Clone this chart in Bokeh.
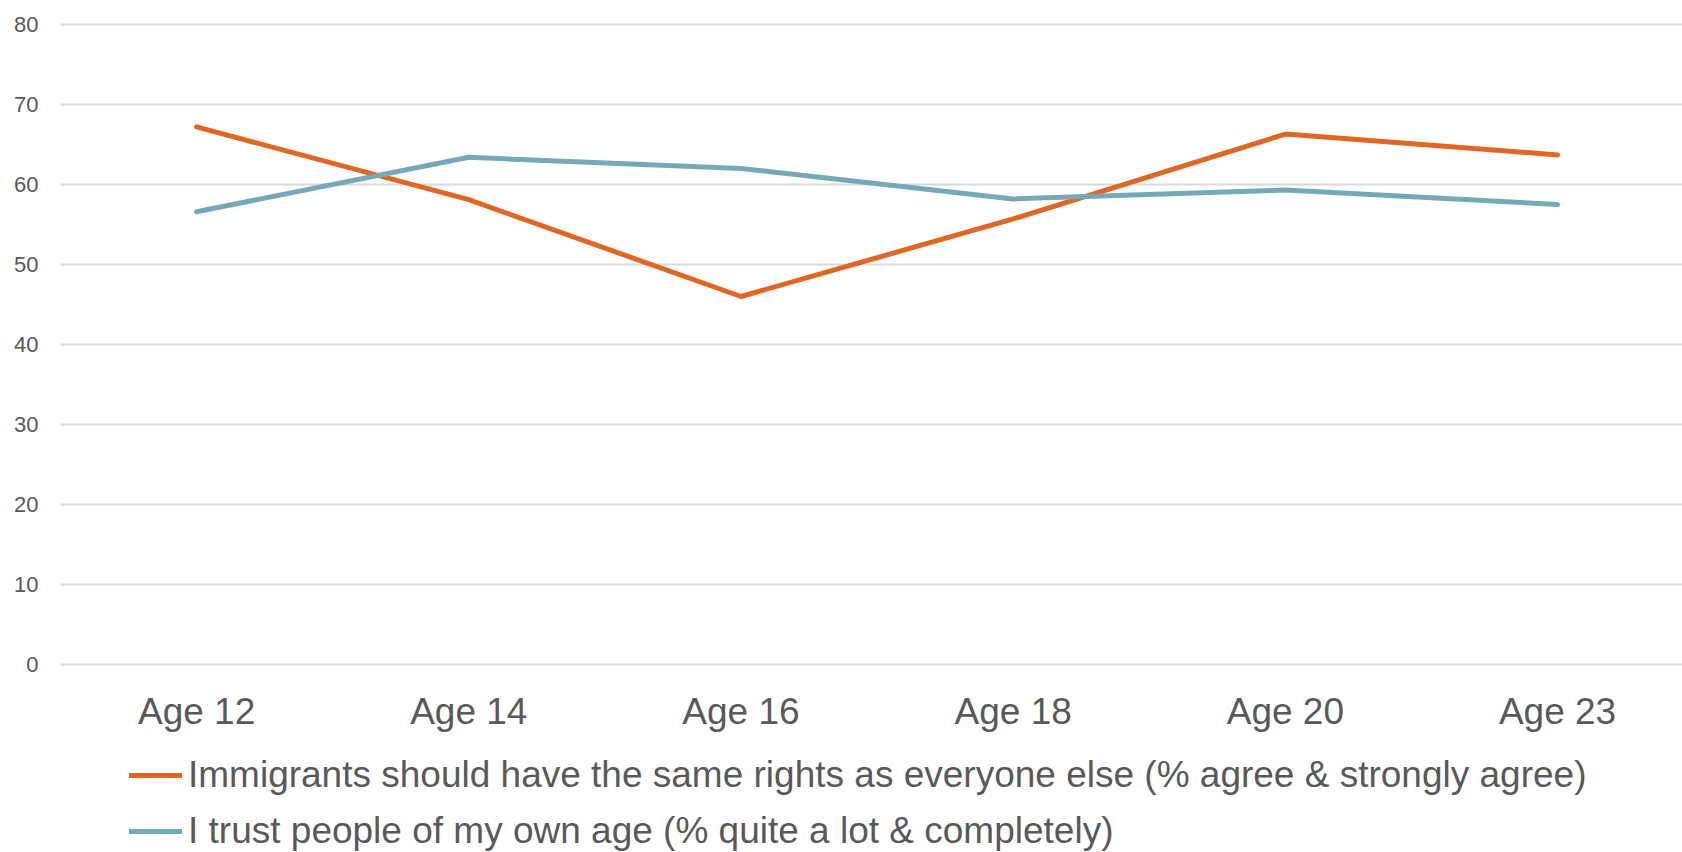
from bokeh.plotting import figure
from bokeh.models import FixedTicker, Legend, LegendItem, Range1d
from bokeh.core.properties import value
from bokeh.embed import file_html
from bokeh.resources import INLINE

# Survey waves and results (%)
categories = ["Age 12", "Age 14", "Age 16", "Age 18", "Age 20", "Age 23"]
immigrants_rights = [67.2, 58.1, 46.0, 55.7, 66.3, 63.7]
trust_own_age = [56.6, 63.4, 62.0, 58.2, 59.3, 57.5]
y_ticks = [0, 10, 20, 30, 40, 50, 60, 70, 80]

series_labels = [
    "Immigrants should have the same rights as everyone else (% agree & strongly agree)",
    "I trust people of my own age (% quite a lot & completely)",
]

ORANGE = "#E06623"
TEAL = "#75A9B7"
TEXT = "#595959"
GRID = "#D9D9D9"
FONT = "Liberation Sans"

xs = list(range(len(categories)))

# The frame fills the canvas height; the band below zero holds the
# category labels and the legend.
p = figure(
    width=1682, height=852,
    output_backend="svg", toolbar_location=None,
    x_range=Range1d(-0.5, 5.459), y_range=Range1d(-23.5, 83),
    x_axis_location=None,
    min_border_left=60, min_border_right=0, min_border_top=0, min_border_bottom=0,
)
p.outline_line_color = None
p.background_fill_color = "white"
p.border_fill_color = "white"

p.yaxis.ticker = FixedTicker(ticks=y_ticks)
p.yaxis.major_label_text_font = FONT
p.yaxis.major_label_text_font_size = "22px"
p.yaxis.major_label_text_color = TEXT
p.yaxis.major_label_standoff = 22
p.yaxis.major_tick_out = 0
p.yaxis.major_tick_in = 0
p.yaxis.axis_line_color = None
p.yaxis.major_tick_line_color = None
p.yaxis.minor_tick_line_color = None

p.xgrid.grid_line_color = None
p.ygrid.ticker = FixedTicker(ticks=y_ticks)
p.ygrid.grid_line_color = GRID
p.ygrid.grid_line_width = 2

# Category labels under the zero line
p.text(x=xs, y=[-5.9] * len(xs), text=categories,
       text_font=value(FONT), text_font_size="37px", text_color=TEXT,
       text_align="center", text_baseline="alphabetic")

r1 = p.line(xs, immigrants_rights, line_color=ORANGE, line_width=5,
            line_cap="round", line_join="round")
r2 = p.line(xs, trust_own_age, line_color=TEAL, line_width=5,
            line_cap="round", line_join="round")

legend = Legend(
    items=[LegendItem(label=series_labels[0], renderers=[r1]),
           LegendItem(label=series_labels[1], renderers=[r2])],
    location=(69, 0),
    orientation="vertical",
    label_text_font=FONT,
    label_text_font_size="37px",
    label_text_color=TEXT,
    label_standoff=6,
    label_height=36,
    glyph_width=53,
    glyph_height=36,
    spacing=14,
    padding=0,
    margin=0,
    border_line_color=None,
    background_fill_alpha=0,
)
p.add_layout(legend, "center")

open("out.html", "w").write(file_html(p, INLINE))
